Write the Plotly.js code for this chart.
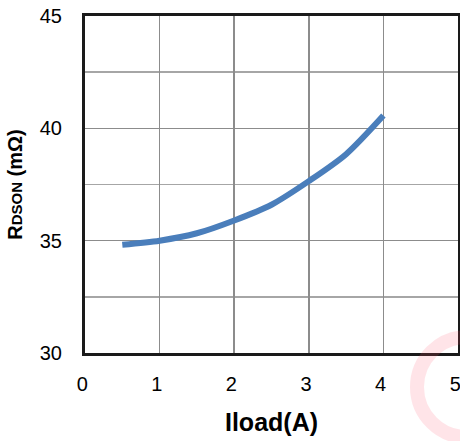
<!DOCTYPE html>
<html><head><meta charset="utf-8">
<script src="https://cdn.plot.ly/plotly-3.0.1.min.js"></script>
<style>html,body{margin:0;padding:0;background:#fff;}</style>
</head><body>
<div id="chart" style="width:460px;height:441px;"></div>
<script>
const iload = [0.5, 1.0, 1.5, 2.0, 2.5, 3.0, 3.5, 4.0];
const rdson = [34.82, 35.0, 35.33, 35.9, 36.6, 37.65, 38.85, 40.57];
const xTicks = [0, 1, 2, 3, 4, 5];
const xTickText = ['0', '1', '2', '3', '4', '5'];
const yTicks = [30, 35, 40, 45];

const trace = {
  x: iload, y: rdson, mode: 'lines', type: 'scatter',
  line: {color: '#4a7ebb', width: 6, shape: 'spline', smoothing: 0.8},
  hoverinfo: 'skip'
};
const font = {family: 'Liberation Sans, Arial, sans-serif', color: '#000'};
// watermark ring (pixel geometry converted to paper units)
const pw = 460 - 85 - 2, ph = 441 - 16 - 88;
const cx = (467 - 85) / pw, cy = (353 - 387) / ph;
const rx = 50 / pw, ry = 50 / ph;
const layout = {
  width: 460, height: 441,
  margin: {l: 85, r: 2, t: 16, b: 88},
  paper_bgcolor: '#fff', plot_bgcolor: '#fff',
  showlegend: false,
  font: font,
  xaxis: {
    range: [0, 5], tickvals: xTicks,
    ticktext: xTickText.map(t => t + '\u00a0'),
    ticks: '', ticklabelstandoff: 11,
    ticklabeloverflow: 'allow',
    showgrid: true, gridcolor: '#8c8c8c', gridwidth: 1.5, zeroline: false,
    showline: true, linecolor: '#1a1a1a', linewidth: 3, mirror: true,
    tickfont: {family: font.family, size: 20, color: '#000'},
    title: {text: '<b>Iload(A)</b>', font: {family: font.family, size: 25, color: '#000'}, standoff: 20}
  },
  yaxis: {
    range: [30, 45], tickvals: yTicks, ticks: '', ticklabelstandoff: 16,
    ticklabeloverflow: 'allow',
    showgrid: true, gridcolor: '#8c8c8c', gridwidth: 1.5, zeroline: false,
    minor: {dtick: 2.5, showgrid: true, gridcolor: '#a6a6a6', gridwidth: 1.5},
    showline: true, linecolor: '#1a1a1a', linewidth: 3, mirror: true,
    tickfont: {family: font.family, size: 20, color: '#000'},
    title: {text: '<b>R<span style="font-size:15px">DSON</span> (mΩ)</b>', font: {family: font.family, size: 20, color: '#000'}, standoff: 12}
  },
  shapes: [{
    type: 'circle', xref: 'paper', yref: 'paper', layer: 'above',
    x0: cx - rx, x1: cx + rx, y0: cy - ry, y1: cy + ry,
    line: {color: 'rgba(255,90,110,0.16)', width: 14}
  }]
};
Plotly.newPlot('chart', [trace], layout, {staticPlot: true, displayModeBar: false});
</script>
</body></html>
